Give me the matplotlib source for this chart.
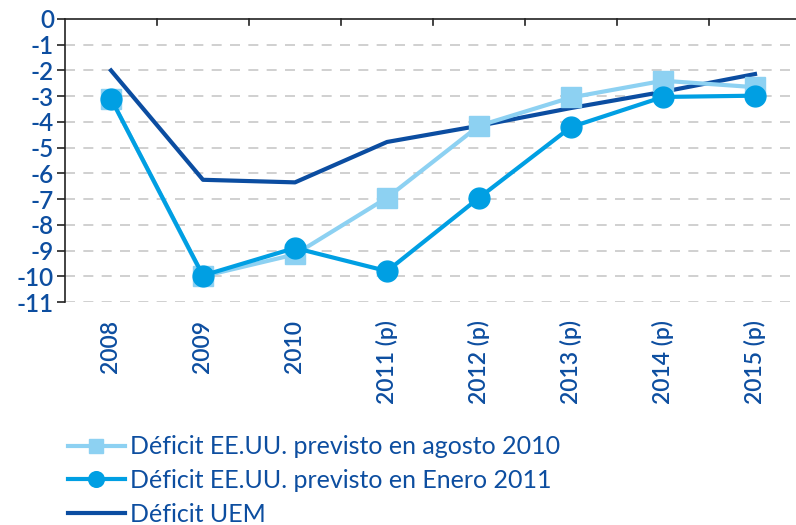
import matplotlib
matplotlib.use("Agg")
import matplotlib.pyplot as plt
import numpy as np

categories = ["2008", "2009", "2010", "2011 (p)", "2012 (p)", "2013 (p)", "2014 (p)", "2015 (p)"]
deficit_aug2010 = [-3.1, -10.0, -9.15, -6.95, -4.15, -3.05, -2.4, -2.65]
deficit_jan2011 = [-3.1, -9.97, -8.9, -9.8, -6.95, -4.2, -3.03, -2.98]
deficit_uem = [-2.0, -6.25, -6.35, -4.78, -4.15, -3.46, -2.83, -2.14]
series_labels = ["Déficit EE.UU. previsto en agosto 2010",
                 "Déficit EE.UU. previsto en Enero 2011",
                 "Déficit UEM"]
yticks = list(range(0, -12, -1))

TXT = "#0D4EA0"
C_LIGHT = "#8DD1F2"
C_MID = "#009FE3"
C_DARK = "#0B4DA1"

plt.rcParams['font.family'] = ['Lato', 'DejaVu Sans']

fig = plt.figure(figsize=(7.96, 5.25), dpi=100)
ax = fig.add_axes([65/796, 1-302/525, 736/796, 283/525])

x = np.arange(len(categories))
l1, = ax.plot(x, deficit_aug2010, color=C_LIGHT, lw=3, marker='s', ms=14, mec=C_LIGHT, mfc=C_LIGHT, zorder=3)
l2, = ax.plot(x, deficit_jan2011, color=C_MID, lw=3, marker='o', ms=15, mec=C_MID, mfc=C_MID, zorder=4)
l3, = ax.plot(x, deficit_uem, color=C_DARK, lw=3, zorder=2)

ax.set_xlim(-0.5, 7.5)
ax.set_ylim(-11, 0)
ax.set_yticks(yticks)
ax.set_yticklabels([str(v) for v in yticks], color=TXT, fontsize=17.5, fontweight='semibold')
for y in yticks[1:]:
    ax.axhline(y, color="#C8C8C8", lw=1.2, ls=(0, (6, 5)), zorder=0)

ax.set_xticks(x)
ax.set_xticklabels(categories, rotation=90, color=TXT, fontsize=16.5, fontweight='semibold', va='top')
ax.tick_params(axis='x', length=0, pad=13)
# category boundary ticks on top spine
for b in np.arange(0.5, 7.5, 1.0):
    ax.plot([b, b], [0, -0.25], color="#222222", lw=1.2, clip_on=False, zorder=5)

ax.tick_params(axis='y', length=6, width=1.2, color="#222222", pad=2)
for s in ['right', 'bottom']:
    ax.spines[s].set_visible(False)
ax.spines['top'].set_color("#222222")
ax.spines['top'].set_linewidth(1.2)
ax.spines['left'].set_color("#222222")
ax.spines['left'].set_linewidth(1.2)

leg = fig.legend([l1, l2, l3], series_labels, loc='upper left', bbox_to_anchor=(55/796, 1-423/525),
                 frameon=False, fontsize=18, handlelength=2.3, handletextpad=0.2, labelspacing=0.42,
                 borderpad=0, markerscale=0.75)
for t in leg.get_texts():
    t.set_color(TXT)

fig.savefig("out.png", dpi=100)
